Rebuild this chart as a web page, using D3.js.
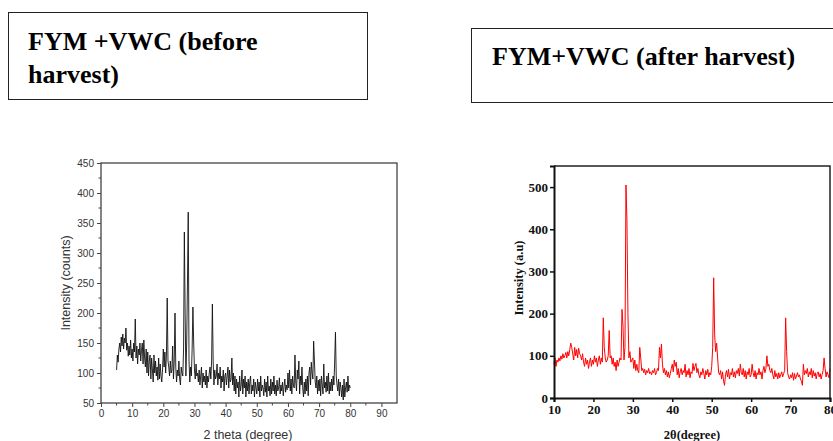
<!DOCTYPE html>
<html>
<head>
<meta charset="utf-8">
<script src="https://d3js.org/d3.v7.min.js"></script>
<style>
  body { margin: 0; background: #fff; }
  svg { display: block; }
</style>
</head>
<body>
<svg id="chart" width="833" height="441"></svg>
<script>
// Left pattern: FYM+VWC before harvest, 2theta from 5 to 80 in 0.25 steps
const beforeStart = 5, beforeStep = 0.25;
const beforeCounts = [
  105, 130, 118, 140,  150, 135, 160, 145,  165, 140, 158, 150,  175, 138, 150, 128,
  145, 130, 155, 125,  140, 120, 150, 135,  190, 125, 145, 115,  140, 130, 150, 120,
  138, 150, 115, 155,  125, 110, 140, 100,  135, 95, 120, 130,   90, 125, 105, 85,
  130, 100, 120, 95,   110, 88, 125, 90,    115, 95, 85, 105,    140, 110, 135, 100,
  130, 225, 120, 110,  95, 120, 100, 105,   145, 90, 120, 200,   110, 85, 105, 95,
  120, 90, 80, 110,    100, 95, 140, 335,   200, 95, 150, 250,   368, 120, 85, 110,
  95, 140, 210, 150,   105, 90, 115, 95,    100, 85, 105, 80,    95, 110, 75, 100,
  85, 95, 80, 105,     75, 95, 85, 100,     110, 90, 120, 215,   120, 80, 105, 90,
  95, 115, 80, 100,    90, 110, 75, 95,     85, 105, 70, 95,     100, 80, 95, 110,
  75, 105, 85, 90,     125, 80, 100, 70,    95, 65, 90, 75,      85, 60, 95, 70,
  80, 105, 65, 90,     75, 95, 60, 85,      70, 90, 65, 85,      95, 65, 80, 70,
  90, 60, 85, 75,      65, 90, 70, 85,      60, 95, 70, 80,      75, 62, 90, 68,
  85, 60, 95, 70,      78, 62, 90, 65,      85, 70, 95, 65,      80, 62, 88, 70,
  75, 92, 65, 80,      70, 85, 62, 78,      90, 68, 80, 72,      100, 75, 105, 70,
  90, 65, 95, 80,      75, 130, 85, 70,     105, 90, 120, 65,    95, 80, 110, 75,
  60, 85, 65, 90,      70, 95, 62, 100,     110, 80, 118, 100,   90, 153, 120, 85,
  75, 95, 65, 88,      70, 90, 62, 95,      80, 65, 115, 75,     85, 68, 95, 70,
  100, 65, 85, 70,     90, 70, 95, 80,      120, 168, 95, 80,    70, 90, 62, 85,
  75, 60, 80, 55,      90, 60, 75, 85,      68, 95, 70, 80,      75
];
const beforeXTicks = [0, 10, 20, 30, 40, 50, 60, 70, 80, 90];
const beforeYTicks = [50, 100, 150, 200, 250, 300, 350, 400, 450];

// Right pattern: FYM+VWC after harvest, 2theta from 10 to 80 in 0.25 steps
const afterStart = 10, afterStep = 0.25;
const afterIntensity = [
  80, 95, 75, 90,      85, 95, 88, 100,     92, 105, 95, 100,    108, 95, 110, 100,
  115, 130, 120, 105,  90, 120, 100, 115,   95, 118, 105, 100,   90, 105, 85, 75,
  95, 80, 90, 70,      85, 95, 75, 90,      80, 100, 85, 95,     75, 90, 100, 80,
  95, 85, 190, 120,    95, 85, 90, 100,     160, 95, 100, 80,    95, 75, 85, 65,
  90, 75, 85, 95,      90, 210, 170, 90,    120, 505, 420, 200,  95, 110, 85, 90,
  95, 70, 90, 65,      80, 65, 60, 120,     95, 65, 70, 60,      68, 55, 65, 60,
  70, 58, 62, 55,      65, 60, 70, 55,      60, 70, 65, 120,     95, 128, 80, 60,
  70, 55, 65, 50,      62, 48, 58, 70,      80, 62, 90, 75,      85, 55, 70, 48,
  62, 70, 55, 65,      60, 80, 50, 65,      55, 70, 48, 62,      58, 82, 65, 75,
  82, 60, 70, 55,      48, 62, 55, 70,      58, 45, 65, 55,      68, 50, 60, 55,
  75, 120, 285, 150,   110, 130, 95, 60,    55, 65, 45, 62,      40, 30, 55, 65,
  50, 68, 45, 60,      55, 70, 50, 62,      48, 65, 58, 70,      52, 80, 60, 55,
  70, 50, 65, 45,      62, 55, 70, 50,      55, 80, 60, 50,      65, 45, 60, 55,
  70, 55, 62, 45,      65, 75, 60, 70,      100, 75, 80, 65,     60, 70, 55, 45,
  65, 50, 58, 45,      60, 48, 55, 62,      50, 58, 65, 190,     110, 60, 50, 45,
  55, 48, 60, 42,      58, 45, 52, 60,      50, 55, 45, 40,      30, 80, 55, 65,
  58, 70, 50, 62,      55, 70, 48, 65,      52, 60, 45, 58,      62, 50, 58, 45,
  55, 65, 95, 70,      50, 62, 55, 48,      70
];
const afterXTicks = [10, 20, 30, 40, 50, 60, 70, 80];
const afterYTicks = [0, 100, 200, 300, 400, 500];

const titles = [
  { lines: ['FYM +VWC (before', 'harvest)'] },
  { lines: ['FYM+VWC (after harvest)'] }
];

const svg = d3.select('#chart');
const serif = '"Liberation Serif", "Times New Roman", serif';
const sans = '"Liberation Sans", Arial, sans-serif';

// Title boxes
svg.append('rect').attr('x', 8.5).attr('y', 12.5).attr('width', 359).attr('height', 87)
  .attr('fill', 'none').attr('stroke', '#222').attr('stroke-width', 1);
const t1 = svg.append('text').attr('font-family', serif).attr('font-weight', 'bold')
  .attr('font-size', 26).attr('fill', '#000');
titles[0].lines.forEach((s, i) => {
  t1.append('tspan').attr('x', 28).attr('y', 50 + i * 33).text(s);
});
svg.append('rect').attr('x', 471.5).attr('y', 28.5).attr('width', 380).attr('height', 74)
  .attr('fill', 'none').attr('stroke', '#222').attr('stroke-width', 1);
svg.append('text').attr('font-family', serif).attr('font-weight', 'bold')
  .attr('font-size', 26).attr('fill', '#000')
  .attr('x', 492).attr('y', 65).text(titles[1].lines[0]);

// ---------- Left chart ----------
{
  const x = d3.scaleLinear().domain([0, 95]).range([101, 397]);
  const y = d3.scaleLinear().domain([50, 450]).range([403, 163]);
  const g = svg.append('g');
  const axisColor = '#444';

  const pts = beforeCounts.map((v, i) => [beforeStart + i * beforeStep, v]);
  g.append('path')
    .attr('d', d3.line().x(d => x(d[0])).y(d => y(d[1]))(pts))
    .attr('fill', 'none').attr('stroke', '#111').attr('stroke-width', 0.9);

  // frame
  g.append('rect').attr('x', x(0)).attr('y', y(450))
    .attr('width', x(95) - x(0)).attr('height', y(50) - y(450))
    .attr('fill', 'none').attr('stroke', axisColor).attr('stroke-width', 1.3);

  const minorX = d3.range(5, 95, 10);
  const minorY = d3.range(75, 450, 50);

  const xa = g.append('g').attr('transform', `translate(0,${y(50)})`)
    .call(d3.axisBottom(x).tickValues(beforeXTicks).tickSize(4).tickPadding(3));
  xa.append('g').selectAll('line').data(minorX).join('line')
    .attr('x1', d => x(d)).attr('x2', d => x(d)).attr('y1', 0).attr('y2', 2.5)
    .attr('stroke', axisColor);
  const ya = g.append('g').attr('transform', `translate(${x(0)},0)`)
    .call(d3.axisLeft(y).tickValues(beforeYTicks).tickSize(4).tickPadding(3));
  ya.append('g').selectAll('line').data(minorY).join('line')
    .attr('y1', d => y(d)).attr('y2', d => y(d)).attr('x1', 0).attr('x2', -2.5)
    .attr('stroke', axisColor);
  [xa, ya].forEach(a => {
    a.select('.domain').remove();
    a.selectAll('.tick line').attr('stroke', axisColor);
    a.selectAll('.tick text').attr('font-family', sans).attr('font-size', 10).attr('fill', '#333');
  });

  g.append('text').attr('x', 248).attr('y', 439).attr('text-anchor', 'middle')
    .attr('font-family', sans).attr('font-size', 12.5).attr('fill', '#333')
    .text('2 theta (degree)');
  g.append('text').attr('transform', 'translate(70,283) rotate(-90)').attr('text-anchor', 'middle')
    .attr('font-family', sans).attr('font-size', 12.5).attr('fill', '#333')
    .text('Intensity (counts)');
}

// ---------- Right chart ----------
{
  const x = d3.scaleLinear().domain([10, 80]).range([554, 830]);
  const y = d3.scaleLinear().domain([0, 550]).range([398, 166]);
  const g = svg.append('g');

  const pts = afterIntensity.map((v, i) => [afterStart + i * afterStep, v]);
  g.append('path')
    .attr('d', d3.line().x(d => x(d[0])).y(d => y(d[1]))(pts))
    .attr('fill', 'none').attr('stroke', '#ff0000').attr('stroke-width', 1);

  // top and right frame
  g.append('path')
    .attr('d', `M${x(10)},${y(550)}H${x(80)}V${y(0)}`)
    .attr('fill', 'none').attr('stroke', '#222').attr('stroke-width', 1.5);

  const xa = g.append('g').attr('transform', `translate(0,${y(0)})`)
    .call(d3.axisBottom(x).tickValues(afterXTicks).tickSize(4).tickPadding(3));
  const ya = g.append('g').attr('transform', `translate(${x(10)},0)`)
    .call(d3.axisLeft(y).tickValues(afterYTicks).tickSize(4).tickPadding(2));
  [xa, ya].forEach(a => {
    a.select('.domain').attr('stroke', '#111').attr('stroke-width', 2);
    a.selectAll('.tick line').attr('stroke', '#111').attr('stroke-width', 1.5);
    a.selectAll('.tick text').attr('font-family', serif).attr('font-weight', 'bold')
      .attr('font-size', 13).attr('fill', '#111');
  });

  g.append('text').attr('x', 692).attr('y', 439).attr('text-anchor', 'middle')
    .attr('font-family', serif).attr('font-weight', 'bold').attr('font-size', 12.5).attr('fill', '#111')
    .text('2θ(degree)');
  g.append('text').attr('transform', 'translate(523,278) rotate(-90)').attr('text-anchor', 'middle')
    .attr('font-family', serif).attr('font-weight', 'bold').attr('font-size', 12.5).attr('fill', '#111')
    .text('Intensity (a.u)');
}
</script>
</body>
</html>
